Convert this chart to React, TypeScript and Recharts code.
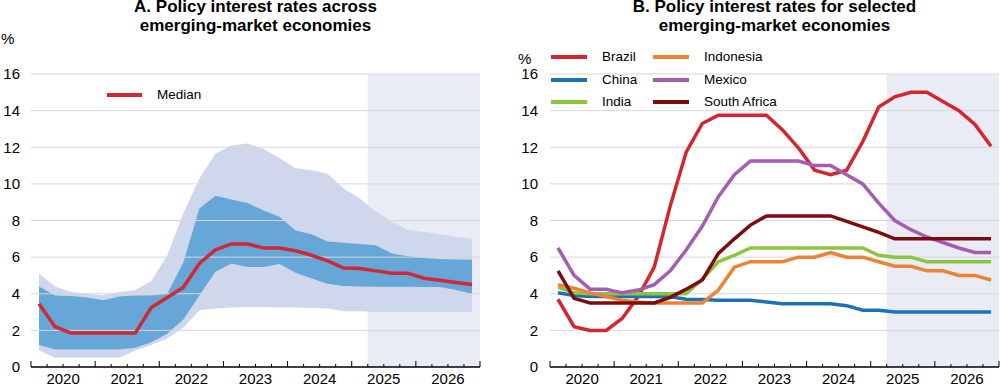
import React from 'react';
import { ComposedChart, Line, Area, XAxis, YAxis, ReferenceArea, ReferenceLine } from 'recharts';

const YEAR_LABELS = ['2020', '2021', '2022', '2023', '2024', '2025', '2026'];
const QUARTER_LABELS = YEAR_LABELS.flatMap((y) => ['Q1', 'Q2', 'Q3', 'Q4'].map((q) => `${y}${q}`));
const Y_TICKS = [0, 2, 4, 6, 8, 10, 12, 14, 16];
const X_TICKS = Array.from({ length: 29 }, (_, i) => i);

// Panel A
const median = [3.45, 2.2, 1.85, 1.85, 1.85, 1.85, 1.85, 3.25, 3.8, 4.35, 5.65, 6.4, 6.72, 6.72, 6.5, 6.5, 6.35, 6.1, 5.8, 5.4, 5.38, 5.25, 5.12, 5.12, 4.85, 4.74, 4.62, 4.5];
const innerHigh = [4.4, 3.9, 3.88, 3.8, 3.65, 3.85, 3.9, 3.9, 4.0, 5.7, 8.65, 9.35, 9.15, 8.95, 8.55, 8.2, 7.45, 7.25, 6.85, 6.78, 6.72, 6.65, 6.2, 6.05, 5.95, 5.9, 5.87, 5.85];
const innerLow = [1.2, 0.95, 0.95, 0.95, 0.95, 0.95, 1.05, 1.35, 1.82, 2.6, 3.9, 5.2, 5.65, 5.46, 5.46, 5.62, 5.14, 4.83, 4.55, 4.42, 4.4, 4.38, 4.38, 4.38, 4.37, 4.37, 4.2, 4.0];
const outerHigh = [5.1, 4.4, 4.1, 4.0, 3.92, 4.1, 4.2, 4.7, 6.1, 8.4, 10.3, 11.65, 12.1, 12.2, 11.9, 11.4, 10.85, 10.75, 10.55, 9.75, 9.2, 8.5, 7.95, 7.5, 7.38, 7.25, 7.1, 7.0];
const outerLow = [0.9, 0.5, 0.5, 0.5, 0.5, 0.5, 0.9, 1.2, 1.55, 2.15, 3.1, 3.2, 3.25, 3.27, 3.27, 3.25, 3.25, 3.22, 3.2, 3.05, 3.05, 3.0, 3.0, 3.0, 3.0, 3.0, 3.0, 3.0];

// Panel B
const brazil = [3.7, 2.2, 2.0, 2.0, 2.65, 3.85, 5.45, 8.8, 11.75, 13.3, 13.75, 13.75, 13.75, 13.75, 12.95, 11.95, 10.75, 10.5, 10.75, 12.3, 14.2, 14.75, 15.0, 15.0, 14.5, 14.0, 13.25, 12.05];
const china = [4.05, 3.9, 3.85, 3.85, 3.85, 3.85, 3.85, 3.83, 3.7, 3.68, 3.65, 3.65, 3.65, 3.55, 3.45, 3.45, 3.45, 3.45, 3.35, 3.1, 3.1, 3.0, 3.0, 3.0, 3.0, 3.0, 3.0, 3.0];
const india = [4.35, 4.05, 4.0, 4.0, 4.0, 4.0, 4.0, 4.0, 4.0, 4.8, 5.75, 6.1, 6.5, 6.5, 6.5, 6.5, 6.5, 6.5, 6.5, 6.5, 6.1, 6.0, 6.0, 5.75, 5.75, 5.75, 5.75, 5.75];
const indonesia = [4.5, 4.3, 4.05, 3.85, 3.65, 3.55, 3.5, 3.5, 3.5, 3.5, 4.2, 5.45, 5.75, 5.75, 5.75, 6.0, 6.0, 6.25, 6.0, 6.0, 5.75, 5.5, 5.5, 5.25, 5.25, 5.0, 5.0, 4.75];
const mexico = [6.5, 5.0, 4.25, 4.25, 4.05, 4.2, 4.5, 5.25, 6.4, 7.7, 9.3, 10.5, 11.25, 11.25, 11.25, 11.25, 11.0, 11.0, 10.5, 10.0, 8.95, 8.0, 7.5, 7.1, 6.8, 6.5, 6.25, 6.25];
const southAfrica = [5.25, 3.75, 3.5, 3.5, 3.5, 3.5, 3.5, 3.8, 4.25, 4.75, 6.2, 7.0, 7.75, 8.25, 8.25, 8.25, 8.25, 8.25, 7.95, 7.65, 7.35, 7.0, 7.0, 7.0, 7.0, 7.0, 7.0, 7.0];

const FORECAST_START = 21;
const FORECAST_END = 28;

const FONT = '"Liberation Sans", Arial, Helvetica, sans-serif';

const dataA = QUARTER_LABELS.map((q, i) => ({
  q,
  t: i + 0.5,
  median: median[i],
  inner: [innerLow[i], innerHigh[i]],
  outer: [outerLow[i], outerHigh[i]],
}));

const dataB = QUARTER_LABELS.map((q, i) => ({
  q,
  t: i + 0.5,
  Brazil: brazil[i],
  China: china[i],
  India: india[i],
  Indonesia: indonesia[i],
  Mexico: mexico[i],
  'South Africa': southAfrica[i],
}));

const SERIES_B = [
  { key: 'Brazil', color: '#d4262e' },
  { key: 'China', color: '#1a73b9' },
  { key: 'India', color: '#8cc640' },
  { key: 'Indonesia', color: '#ef8132' },
  { key: 'Mexico', color: '#a45db2' },
  { key: 'South Africa', color: '#7b0c10' },
];

const QuarterTick = (props: any) => {
  const { x, y, payload } = props;
  const v = payload.value as number;
  const major = v % 4 === 0;
  const label = v % 4 === 2 ? YEAR_LABELS[(v - 2) / 4] : null;
  return (
    <g>
      <line x1={x} x2={x} y1={y} y2={y - (major ? 6 : 3)} stroke="#000" strokeWidth={1} />
      {label && (
        <text x={x} y={y + 17} textAnchor="middle" fontSize={15} fill="#000" fontFamily={FONT}>
          {label}
        </text>
      )}
    </g>
  );
};

const gridLines = (prefix: string) =>
  Y_TICKS.filter((v) => v > 0).map((v) => (
    <ReferenceLine key={prefix + v} y={v} stroke="#d6d6d6" strokeWidth={1} ifOverflow="visible" zIndex={150} />
  ));

const axes = (yWidth: number, margin: number) => [
  <XAxis
    key="x"
    dataKey="t"
    type="number"
    domain={[0, 28]}
    ticks={X_TICKS}
    interval={0}
    height={18}
    tickSize={0}
    tickMargin={0}
    tickLine={false}
    axisLine={{ stroke: '#000', strokeWidth: 1.5 }}
    tick={<QuarterTick />}
    allowDataOverflow
  />,
  <YAxis
    key="y"
    type="number"
    domain={[0, 16]}
    ticks={Y_TICKS}
    interval={0}
    width={yWidth}
    tickSize={0}
    tickMargin={margin}
    axisLine={false}
    tickLine={false}
    tick={{ fontSize: 15, fill: '#000', fontFamily: FONT }}
  />,
];

const Title = ({ left, lines }: { left: number; lines: string[] }) => (
  <div
    style={{
      position: 'absolute',
      left: left - 250,
      width: 500,
      top: -2,
      textAlign: 'center',
      fontWeight: 'bold',
      fontSize: 17,
      lineHeight: '18.5px',
      color: '#000',
      fontFamily: FONT,
    }}
  >
    {lines.map((l) => (
      <div key={l}>{l}</div>
    ))}
  </div>
);

const Pct = ({ left, top }: { left: number; top: number }) => (
  <div style={{ position: 'absolute', left, top, fontSize: 15, lineHeight: '15px', fontFamily: FONT, color: '#000' }}>%</div>
);

const LegendItem = ({ x1, x2, tx, y, color, label }: any) => (
  <>
    <div style={{ position: 'absolute', left: x1, top: y - 2, width: x2 - x1, height: 4, background: color }} />
    <div
      style={{
        position: 'absolute',
        left: tx,
        top: y - 8,
        height: 16,
        lineHeight: '16px',
        fontSize: 13.5,
        fontFamily: FONT,
        color: '#000',
        whiteSpace: 'nowrap',
      }}
    >
      {label}
    </div>
  </>
);

export default function App() {
  return (
    <div style={{ position: 'absolute', left: 0, top: 0, width: 1000, height: 385, background: '#fff', overflow: 'hidden', fontFamily: FONT }}>
      <Title left={255.5} lines={['A. Policy interest rates across', 'emerging-market economies']} />
      <Title left={774.5} lines={['B. Policy interest rates for selected', 'emerging-market economies']} />
      <Pct left={1} top={30.5} />
      <Pct left={518} top={50.5} />

      <div style={{ position: 'absolute', left: 0, top: 0 }}>
        <ComposedChart width={500} height={385} data={dataA} margin={{ top: 74, right: 20, bottom: 0, left: 0 }}>
          <ReferenceArea x1={FORECAST_START} x2={FORECAST_END} y1={0} y2={16} fill="#e9ecf5" fillOpacity={1} stroke="none" zIndex={50} ifOverflow="visible" />
          {axes(31, 11)}
          <Area dataKey="outer" type="linear" stroke="none" fill="#cfd7ec" fillOpacity={1} isAnimationActive={false} activeDot={false} dot={false} />
          <Area dataKey="inner" type="linear" stroke="none" fill="#66a7d8" fillOpacity={1} isAnimationActive={false} activeDot={false} dot={false} />
          {gridLines('a')}
          <Line dataKey="median" type="linear" stroke="#cf2935" strokeWidth={3.5} dot={false} activeDot={false} isAnimationActive={false} />
        </ComposedChart>
      </div>

      <div style={{ position: 'absolute', left: 500, top: 0 }}>
        <ComposedChart width={500} height={385} data={dataB} margin={{ top: 74, right: 1, bottom: 0, left: 0 }}>
          <ReferenceArea x1={FORECAST_START} x2={FORECAST_END} y1={0} y2={16} fill="#e9ecf5" fillOpacity={1} stroke="none" zIndex={50} ifOverflow="visible" />
          {axes(50, 12)}
          {gridLines('b')}
          {SERIES_B.map((s) => (
            <Line key={s.key} dataKey={s.key} type="linear" stroke={s.color} strokeWidth={3.5} dot={false} activeDot={false} isAnimationActive={false} />
          ))}
        </ComposedChart>
      </div>

      <LegendItem x1={107} x2={142} tx={157} y={95} color="#cf2935" label="Median" />

      <LegendItem x1={551} x2={587} tx={602} y={57} color={SERIES_B[0].color} label="Brazil" />
      <LegendItem x1={551} x2={587} tx={602} y={80} color={SERIES_B[1].color} label="China" />
      <LegendItem x1={551} x2={587} tx={602} y={102} color={SERIES_B[2].color} label="India" />
      <LegendItem x1={653} x2={689} tx={704} y={57} color={SERIES_B[3].color} label="Indonesia" />
      <LegendItem x1={653} x2={689} tx={704} y={80} color={SERIES_B[4].color} label="Mexico" />
      <LegendItem x1={653} x2={689} tx={704} y={102} color={SERIES_B[5].color} label="South Africa" />
    </div>
  );
}
